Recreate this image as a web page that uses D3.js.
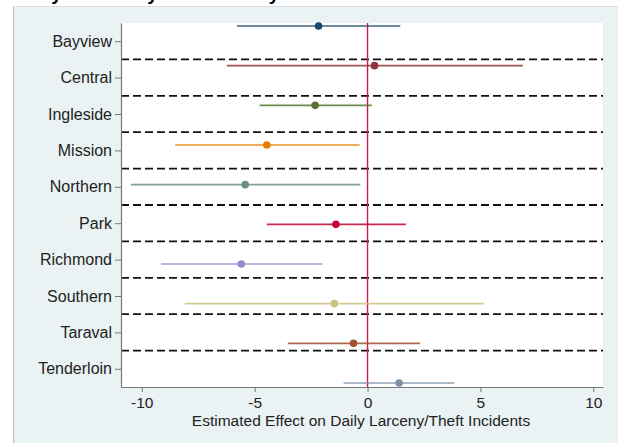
<!DOCTYPE html>
<html>
<head>
<meta charset="utf-8">
<script src="https://cdn.jsdelivr.net/npm/d3@7"></script>
<style>
body { margin: 0; background: #fff; }
text { font-family: "Liberation Sans", Arial, sans-serif; }
</style>
</head>
<body>
<script>
var districts = ["Bayview", "Central", "Ingleside", "Mission", "Northern",
                 "Park", "Richmond", "Southern", "Taraval", "Tenderloin"];
var estimates = [-2.17, 0.31, -2.32, -4.46, -5.42, -1.40, -5.59, -1.47, -0.62, 1.40];
var lower = [-5.78, -6.23, -4.78, -8.52, -10.48, -4.46, -9.15, -8.10, -3.53, -1.06];
var upper = [1.45, 6.88, 0.19, -0.35, -0.32, 1.70, -1.99, 5.17, 2.33, 3.84];
var colors = ["#1a476f", "#90353b", "#55752f", "#e37e00", "#6e8e84",
              "#c10534", "#938dd2", "#cac27e", "#a0522d", "#7b92a8"];
var xTicks = [-10, -5, 0, 5, 10];
var xTitle = "Estimated Effect on Daily Larceny/Theft Incidents";
var title = "Study Effects by District Daily";

var width = 618, height = 443;
var plotLeft = 121, plotRight = 603, plotTop = 23, plotBottom = 387;

var rows = districts.map(function (d, i) {
    return { name: d, b: estimates[i], lo: lower[i], hi: upper[i], color: colors[i], pos: i + 1 };
});

var svg = d3.select("body").append("svg")
    .attr("width", width)
    .attr("height", height);

// outer graph region
svg.append("rect")
    .attr("x", 13).attr("y", 6)
    .attr("width", width).attr("height", height)
    .style("fill", "#eaf2f3");
svg.append("line")
    .attr("x1", 13.5).attr("x2", 13.5).attr("y1", 6).attr("y2", height)
    .style("stroke", "#b8b8b8");
svg.append("line")
    .attr("x1", 13).attr("x2", width).attr("y1", 6.5).attr("y2", 6.5)
    .style("stroke", "#dcdcdc");

// title sits mostly above the visible area, as in the cropped original
svg.append("text")
    .attr("x", 9).attr("y", 0)
    .style("font-size", "19px")
    .style("font-weight", "bold")
    .style("fill", "#000")
    .text(title);

svg.append("rect")
    .attr("x", plotLeft).attr("y", plotTop)
    .attr("width", plotRight - plotLeft).attr("height", plotBottom - plotTop)
    .style("fill", "#fff");

var x = d3.scaleLinear().domain([-10.92, 10.43]).range([plotLeft, plotRight]);
var y = d3.scaleLinear().domain([0.5, 10.5]).range([plotTop, plotBottom]);
var yMark = d3.scalePoint().domain(districts).range([26, 383]);

// dashed separators between districts
svg.selectAll(".sep")
    .data(d3.range(1.5, 10, 1))
    .enter()
    .append("line")
    .attr("class", "sep")
    .attr("x1", plotLeft).attr("x2", plotRight)
    .attr("y1", function (d) { return y(d); })
    .attr("y2", function (d) { return y(d); })
    .style("stroke", "#111")
    .style("stroke-width", 1.8)
    .style("stroke-dasharray", "8,4");

// zero line
svg.append("line")
    .attr("x1", x(0)).attr("x2", x(0))
    .attr("y1", plotTop).attr("y2", plotBottom)
    .style("stroke", "#d3184a")
    .style("stroke-width", 1.4);

var g = svg.selectAll(".coef")
    .data(rows)
    .enter()
    .append("g")
    .attr("class", "coef");

g.append("line")
    .attr("x1", function (d) { return x(d.lo); })
    .attr("x2", function (d) { return x(d.hi); })
    .attr("y1", function (d) { return yMark(d.name); })
    .attr("y2", function (d) { return yMark(d.name); })
    .style("stroke", function (d) { return d.color; })
    .style("stroke-opacity", 0.85)
    .style("stroke-width", 1.6);

g.append("circle")
    .attr("cx", function (d) { return x(d.b); })
    .attr("cy", function (d) { return yMark(d.name); })
    .attr("r", 3.8)
    .style("fill", function (d) { return d.color; });

var yAxis = svg.append("g")
    .attr("transform", "translate(" + plotLeft + ",0)")
    .call(d3.axisLeft(y)
        .tickValues(rows.map(function (d) { return d.pos; }))
        .tickFormat(function (d) { return districts[d - 1]; })
        .tickSize(6).tickSizeOuter(0).tickPadding(3));

var xAxis = svg.append("g")
    .attr("transform", "translate(0," + plotBottom + ")")
    .call(d3.axisBottom(x)
        .tickValues(xTicks)
        .tickFormat(function (d) { return String(d); })
        .tickSize(5).tickSizeOuter(0).tickPadding(5));

[yAxis, xAxis].forEach(function (a) {
    a.select(".domain").style("stroke", "#777").style("stroke-width", 1.2);
    a.selectAll(".tick line").style("stroke", "#777");
    a.selectAll("text")
        .style("font-family", "'Liberation Sans', Arial, sans-serif")
        .style("fill", "#222");
});
yAxis.selectAll("text").style("font-size", "16px");
xAxis.selectAll("text").style("font-size", "15.5px");

svg.append("text")
    .attr("x", 361).attr("y", 426)
    .attr("text-anchor", "middle")
    .style("font-size", "15.5px")
    .style("fill", "#222")
    .text(xTitle);
</script>
</body>
</html>
